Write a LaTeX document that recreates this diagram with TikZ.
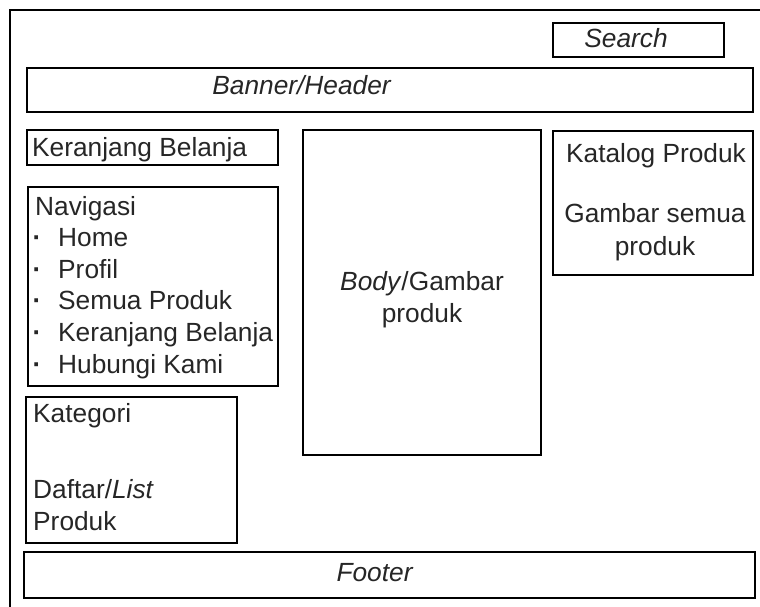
\documentclass[tikz,border=0pt]{standalone}
\usepackage{fontspec}
\setmainfont{Liberation Sans}

\tikzset{
	box/.style={draw=black, line width=1.5pt, rectangle, inner sep=0pt},
	lbl/.style={inner sep=0pt, text=black!85, font=\fontsize{26.3}{31.6}\selectfont},
}

\begin{document}
\begin{tikzpicture}[x=1pt, y=-1pt]
		\useasboundingbox (0,0) rectangle (760,607);

		% page frame, cut off at right and bottom
		\draw [line width=1.3pt] (10,607) -- (10,10) -- (760,10);

		\begin{scope}[every node/.style={box}]
			\node [minimum width=171pt, minimum height=34pt] (search) at (638.5,40) {};
			\node [minimum width=726pt, minimum height=44pt] (banner) at (390,90) {};
			\node [minimum width=251pt, minimum height=35pt] (cart) at (152.5,147.5) {};
			\node [minimum width=250pt, minimum height=199pt] (nav) at (153,286.5) {};
			\node [minimum width=211pt, minimum height=146pt] (cat) at (131.5,470) {};
			\node [minimum width=238pt, minimum height=325pt] (body) at (422,292.5) {};
			\node [minimum width=200pt, minimum height=144pt] (catalog) at (653,203) {};
			\node [minimum width=731pt, minimum height=46pt] (footer) at (389.5,575) {};
		\end{scope}

		\begin{scope}[every node/.style={lbl}]
			\node [anchor=base] (searchtxt) at (626,48) {\textit{Search}};
			\node [anchor=base] (bannertxt) at (302,95) {\textit{Banner/Header}};
			\node [anchor=base west] (carttxt) at (32,157) {Keranjang Belanja};

			\node [anchor=base west] (navtxt) at (35,215) {Navigasi};
			\foreach \name [count=\i] in {Home, Profil, Semua Produk, Keranjang Belanja, Hubungi Kami} {
				\node [anchor=base] (dot\i) at (37,215+31.6*\i) {\textbf{\textperiodcentered}};
				\node [anchor=base west] (nav\i) at (58,215+31.6*\i) {\name};
			}

			\node [anchor=base west] (cattxt) at (33,422) {Kategori};
			\node [anchor=base west] (listtxt) at (33,498) {Daftar/\textit{List}};
			\node [anchor=base west] (listtxtb) at (33,530) {Produk};

			\node [anchor=base] (bodytxt) at (422,290) {\textit{Body}/Gambar};
			\node [anchor=base] (bodytxtb) at (422,322) {produk};

			\node [anchor=base] (catalogtxt) at (656,162) {Katalog Produk};
			\node [anchor=base] (imgtxt) at (655,222) {Gambar semua};
			\node [anchor=base] (imgtxtb) at (655,255) {produk};

			\node [anchor=base] (footertxt) at (375,581) {\textit{Footer}};
		\end{scope}

	\end{tikzpicture}
\end{document}
